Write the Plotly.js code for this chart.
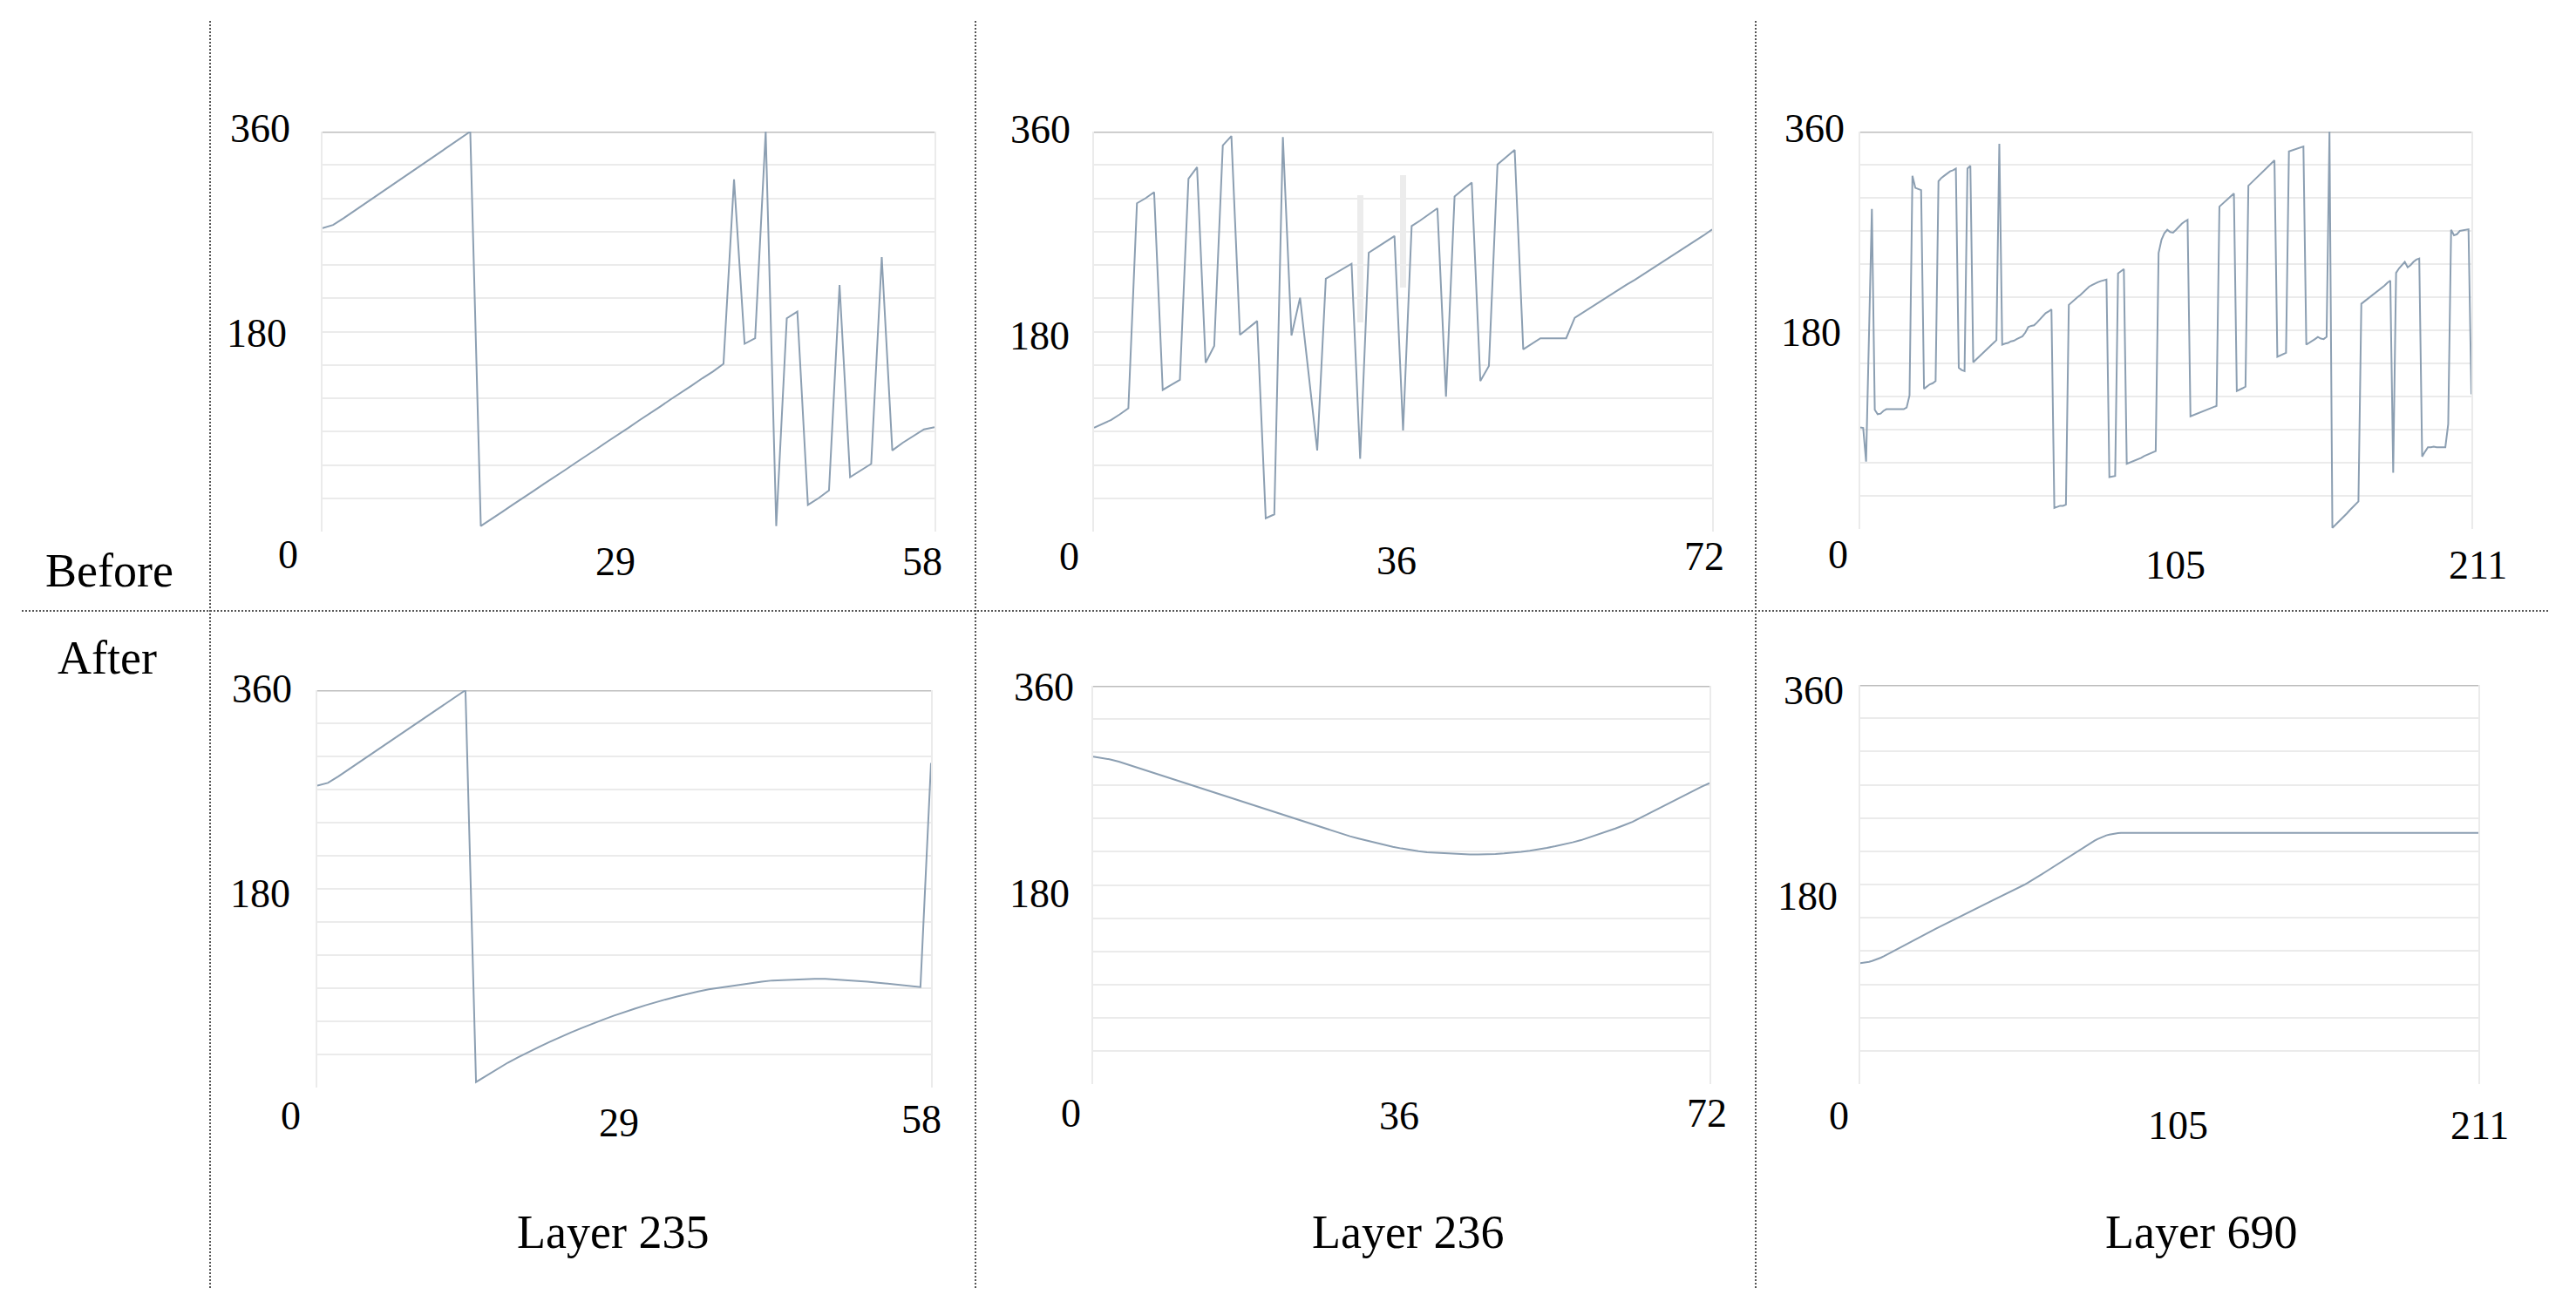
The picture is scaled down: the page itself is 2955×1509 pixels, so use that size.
<!DOCTYPE html>
<html>
<head>
<meta charset="utf-8">
<script src="https://cdn.plot.ly/plotly-3.0.1.min.js"></script>
<style>
  html, body { margin: 0; padding: 0; background: #ffffff; }
  #chart { width: 2955px; height: 1509px; }
</style>
</head>
<body>
<div id="chart"></div>
<script>
// ---------------- DATA ----------------
const rowLabels = ['Before', 'After'];
const layerLabels = ['Layer 235', 'Layer 236', 'Layer 690'];
const yTickLabels = [360, 180];

const xTicks235 = [0, 29, 58];
const xTicks236 = [0, 36, 72];
const xTicks690 = [0, 105, 211];

const layer235Before = [
  273, 276, 282, 288.5, 295, 301.5, 308, 314.5, 321, 327.5,
  334, 340.5, 347, 353.5, 360, 5, 11, 17.5, 24, 30,
  36.5, 43, 49, 55.5, 62, 68, 74.5, 81, 87, 93.5,
  100, 106, 112.5, 119, 125, 131.5, 138, 144, 151, 317,
  169, 174, 360, 5, 192, 198, 24, 30, 37, 222,
  49, 55, 61, 247, 73, 80, 86, 92, 94
];

const layer235After = [
  273.5, 276, 282, 288.5, 295, 301.5, 308, 314.5, 321, 327.5,
  334, 340.5, 347, 353.5, 360, 5, 11, 17, 22.5, 27.5,
  32.5, 37, 41.5, 46, 50, 54, 58, 61.5, 65, 68.5,
  71.5, 74.5, 77.5, 80, 82.5, 85, 87, 89, 90.5, 92,
  93.5, 95, 96, 97, 97.5, 98, 98.5, 98.5, 98.5, 98,
  97.5, 97, 96, 95, 94, 93, 92, 91, 294
];

const layer236Before = [
  93.5, 97, 100.5, 105.5, 111, 295.5, 300, 305.5, 127.5, 132,
  136.5, 317.5, 328, 152, 167, 347.5, 356, 177, 183.5, 189.5,
  12, 15.5, 355, 176.5, 210.5, 142, 73, 227.5, 232, 236.5,
  241, 65.5, 251, 256, 261, 266, 91, 275, 280, 285.5,
  291, 121.5, 301.5, 308, 314, 135.5, 149, 330.5, 337, 343.5,
  164, 169, 174, 174, 174, 174, 192.5, 197.5, 202, 207,
  212, 217, 222, 226.5, 231.5, 236.5, 241.5, 246.5, 251, 256,
  261, 266.5, 272
];

// faint grey scan artefacts visible in the Layer 236 "Before" panel
const ghost236X = [31, 36];
const ghost236Base = [188, 220];
const ghost236Top = [303, 321];

const layer236After = [
  296, 295, 293.5, 291.5, 289, 286.5, 284, 281, 278.5, 276,
  273.5, 271, 268.5, 266, 263.5, 261, 258.5, 256, 253.5, 251,
  248.5, 246, 243.5, 241, 238.5, 236, 233.5, 231, 228.5, 226,
  224, 222, 220, 218, 216, 214.5, 213, 211.5, 210.5, 209.5,
  209, 208.5, 208, 207.5, 207.5, 207.5, 207.5, 208, 208.5, 209,
  210, 211, 212, 213.5, 215, 216.5, 218.5, 220.5, 223, 225.5,
  228, 231, 234, 237, 241, 245, 249, 253, 257, 261,
  265, 268.5, 272
];

const layer690Before = [
  92, 91.5, 61, 175, 290, 108, 104, 104.5, 107, 108.5,
  108.5, 108.5, 108.5, 108.5, 108.5, 108.5, 110, 121, 320, 309,
  308, 307, 127, 129, 131, 132, 134, 315, 318, 320,
  322, 324, 325, 326.5, 146, 144, 143, 326.5, 329, 151,
  153.5, 156, 158.5, 161, 163.5, 166, 168.5, 171, 349, 167,
  168, 168.5, 170, 170.5, 172, 173.5, 174.5, 178, 183, 184,
  184.5, 187, 190, 193, 195.5, 197, 199, 19, 20, 21,
  21, 22, 203, 205.5, 208, 210, 212, 214.5, 217, 219.5,
  221, 222.5, 223.5, 224.5, 225.5, 226, 47, 47.5, 48, 231.5,
  233.5, 235.5, 59, 60, 61, 62.5, 63.5, 64.5, 66, 67,
  68, 69.5, 70.5, 250, 262, 268, 271, 269, 268.5, 271,
  274, 276.5, 278.5, 280, 102, 103, 104, 105.5, 106.5, 107.5,
  108.5, 109.5, 110.5, 111.5, 292, 294.5, 297, 299.5, 302, 304,
  125, 126, 127.5, 129, 311, 313.5, 316, 318.5, 321, 323.5,
  326, 328.5, 331, 334, 156, 157, 158, 159.5, 342, 343,
  344, 345, 346, 346.5, 167, 168.5, 170, 172, 174, 172.5,
  172, 174, 360, 1, 3.5, 6, 9, 11.5, 14, 17,
  19.5, 22, 25, 204, 206, 208, 210, 212, 214.5, 216.5,
  218.5, 220.5, 223, 225, 51, 232, 236, 239, 242, 237,
  239, 242, 244, 245, 65.5, 70, 74, 74, 74.5, 74,
  74, 74, 74, 95, 271, 266, 267, 270, 270.5, 271,
  271.5, 122
];

const layer690After = [
  109, 109.2, 109.6, 110.2, 111, 111.8, 112.8, 114, 115.3, 116.7,
  118.2, 119.7, 121.2, 122.7, 124.2, 125.7, 127.1, 128.5, 129.9, 131.3,
  132.6, 133.9, 135.2, 136.5, 137.8, 139.1, 140.4, 141.7, 143, 144.3,
  145.6, 146.9, 148.2, 149.5, 150.8, 152.1, 153.4, 154.7, 156, 157.3,
  158.6, 159.9, 161.2, 162.5, 163.8, 165.1, 166.4, 167.7, 169, 170.3,
  171.6, 172.9, 174.2, 175.6, 177, 178.4, 179.8, 181.3, 182.8, 184.4,
  186, 187.6, 189.3, 191, 192.7, 194.4, 196.1, 197.8, 199.5, 201.2,
  202.9, 204.6, 206.3, 208, 209.7, 211.4, 213.1, 214.8, 216.5, 218.1,
  219.6, 221, 222.3, 223.4, 224.3, 225, 225.6, 226, 226.3, 226.5,
  226.5, 226.5, 226.5, 226.5, 226.5, 226.5, 226.5, 226.5, 226.5, 226.5,
  226.5, 226.5, 226.5, 226.5, 226.5, 226.5, 226.5, 226.5, 226.5, 226.5,
  226.5, 226.5, 226.5, 226.5, 226.5, 226.5, 226.5, 226.5, 226.5, 226.5,
  226.5, 226.5, 226.5, 226.5, 226.5, 226.5, 226.5, 226.5, 226.5, 226.5,
  226.5, 226.5, 226.5, 226.5, 226.5, 226.5, 226.5, 226.5, 226.5, 226.5,
  226.5, 226.5, 226.5, 226.5, 226.5, 226.5, 226.5, 226.5, 226.5, 226.5,
  226.5, 226.5, 226.5, 226.5, 226.5, 226.5, 226.5, 226.5, 226.5, 226.5,
  226.5, 226.5, 226.5, 226.5, 226.5, 226.5, 226.5, 226.5, 226.5, 226.5,
  226.5, 226.5, 226.5, 226.5, 226.5, 226.5, 226.5, 226.5, 226.5, 226.5,
  226.5, 226.5, 226.5, 226.5, 226.5, 226.5, 226.5, 226.5, 226.5, 226.5,
  226.5, 226.5, 226.5, 226.5, 226.5, 226.5, 226.5, 226.5, 226.5, 226.5,
  226.5, 226.5, 226.5, 226.5, 226.5, 226.5, 226.5, 226.5, 226.5, 226.5,
  226.5, 226.5
];

// ---------------- STYLE / LAYOUT CONFIG ----------------
const W = 2955, H = 1509;
const FONT = 'Liberation Serif, Times New Roman, serif';
const LINE_COLOR = '#8c9fb2';

// plot boxes in pixels: [left, right, top, bottom]
const panels = [
  { values: layer235Before, ticks: xTicks235, box: [370, 1072, 151, 610],
    xdx: [-40, -15, -14], xdy: [26, 34, 34], ydx: [-72, -76], ydy: [4, -1.5] },
  { values: layer236Before, ticks: xTicks236, box: [1255, 1964, 151, 610],
    xdx: [-29, -7.5, -9], xdy: [28, 33, 28], ydx: [-62, -63], ydy: [3, -4.5],
    ghost: { x: ghost236X, base: ghost236Base, top: ghost236Top } },
  { values: layer690Before, ticks: xTicks690, box: [2134, 2835, 151, 607],
    xdx: [-26, 13, 7], xdy: [29, 41, 41], ydx: [-53, -57], ydy: [4, -2.6] },
  { values: layer235After, ticks: xTicks235, box: [364, 1068, 792, 1248],
    xdx: [-31, -6, -11], xdy: [32, 40, 36], ydx: [-64, -66], ydy: [1.5, -5] },
  { values: layer236After, ticks: xTicks236, box: [1254, 1961, 787, 1244],
    xdx: [-26, -2.5, -3], xdy: [33, 36, 33], ydx: [-57, -62], ydy: [-1, -10] },
  { values: layer690After, ticks: xTicks690, box: [2134, 2843, 786, 1244],
    xdx: [-25, 12, 1], xdy: [36, 47, 47], ydx: [-54, -61], ydy: [-6, -13] }
];

const traces = [];
const annotations = [];
const shapes = [];
const layout = {
  width: W, height: H,
  margin: { l: 0, r: 0, t: 0, b: 0, pad: 0 },
  paper_bgcolor: '#ffffff',
  plot_bgcolor: '#ffffff',
  showlegend: false,
  font: { family: FONT, color: '#000000' },
  hovermode: false,
  bargap: 0
};

panels.forEach((p, k) => {
  const s = k === 0 ? '' : String(k + 1);
  const [l, r, t, b] = p.box;
  const n = p.values.length;
  layout['xaxis' + s] = {
    domain: [l / W, r / W], range: [0, n - 1], anchor: 'y' + s,
    showgrid: false, zeroline: false, showticklabels: false, showline: false,
    ticks: '', fixedrange: true
  };
  layout['yaxis' + s] = {
    domain: [1 - b / H, 1 - t / H], range: [0, 360], anchor: 'x' + s,
    tick0: 0, dtick: 30, showticklabels: false, ticks: '',
    showgrid: true, gridcolor: '#ebebeb', gridwidth: 2,
    zeroline: false, showline: true, mirror: true, linecolor: '#ebebeb', linewidth: 2,
    fixedrange: true
  };
  if (p.ghost) {
    traces.push({
      type: 'bar', x: p.ghost.x, base: p.ghost.base,
      y: p.ghost.top.map((tp, i) => tp - p.ghost.base[i]),
      width: 0.7, xaxis: 'x' + s, yaxis: 'y' + s,
      marker: { color: '#ececec', line: { width: 0 } },
      hoverinfo: 'skip'
    });
  }
  traces.push({
    type: 'scatter', mode: 'lines',
    x: p.values.map((_, i) => i), y: p.values,
    xaxis: 'x' + s, yaxis: 'y' + s,
    line: { color: LINE_COLOR, width: 2 },
    hoverinfo: 'skip'
  });
  // darker top reference line at 360
  shapes.push({
    type: 'line', xref: 'x' + s + ' domain', yref: 'y' + s,
    x0: 0, x1: 1, y0: 360, y1: 360,
    line: { color: '#bdbdbd', width: 3 }, layer: 'below'
  });
  // x tick labels
  p.ticks.forEach((tv, j) => {
    annotations.push({
      xref: 'x' + s, yref: 'y' + s, x: tv, y: 0,
      xshift: p.xdx[j], yshift: -p.xdy[j],
      text: String(tv), showarrow: false,
      xanchor: 'center', yanchor: 'middle',
      font: { family: FONT, size: 46, color: '#000' }
    });
  });
  // y tick labels
  yTickLabels.forEach((yv, j) => {
    annotations.push({
      xref: 'x' + s, yref: 'y' + s, x: 0, y: yv,
      xshift: p.ydx[j], yshift: p.ydy[j],
      text: String(yv), showarrow: false,
      xanchor: 'center', yanchor: 'middle',
      font: { family: FONT, size: 46, color: '#000' }
    });
  });
});

// row labels
const rowPos = [[126, 655], [123, 755]];
rowLabels.forEach((txt, i) => {
  annotations.push({
    xref: 'paper', yref: 'paper', x: rowPos[i][0] / W, y: 1 - rowPos[i][1] / H,
    text: txt, showarrow: false, xanchor: 'center', yanchor: 'middle',
    font: { family: FONT, size: 54, color: '#000' }
  });
});
// column labels
const colPos = [703, 1615, 2525];
layerLabels.forEach((txt, i) => {
  annotations.push({
    xref: 'paper', yref: 'paper', x: colPos[i] / W, y: 1 - 1414 / H,
    text: txt, showarrow: false, xanchor: 'center', yanchor: 'middle',
    font: { family: FONT, size: 54, color: '#000' }
  });
});

// dotted separators
const sepStyle = { color: '#555555', width: 2, dash: '2px,2px' };
[241, 1119, 2014].forEach(xp => {
  shapes.push({ type: 'line', xref: 'paper', yref: 'paper',
    x0: xp / W, x1: xp / W, y0: 1 - 24 / H, y1: 1 - 1478 / H, line: sepStyle });
});
shapes.push({ type: 'line', xref: 'paper', yref: 'paper',
  x0: 25 / W, x1: 2925 / W, y0: 1 - 701 / H, y1: 1 - 701 / H, line: sepStyle });

layout.annotations = annotations;
layout.shapes = shapes;

Plotly.newPlot('chart', traces, layout, { staticPlot: true, displayModeBar: false });
</script>
</body>
</html>
